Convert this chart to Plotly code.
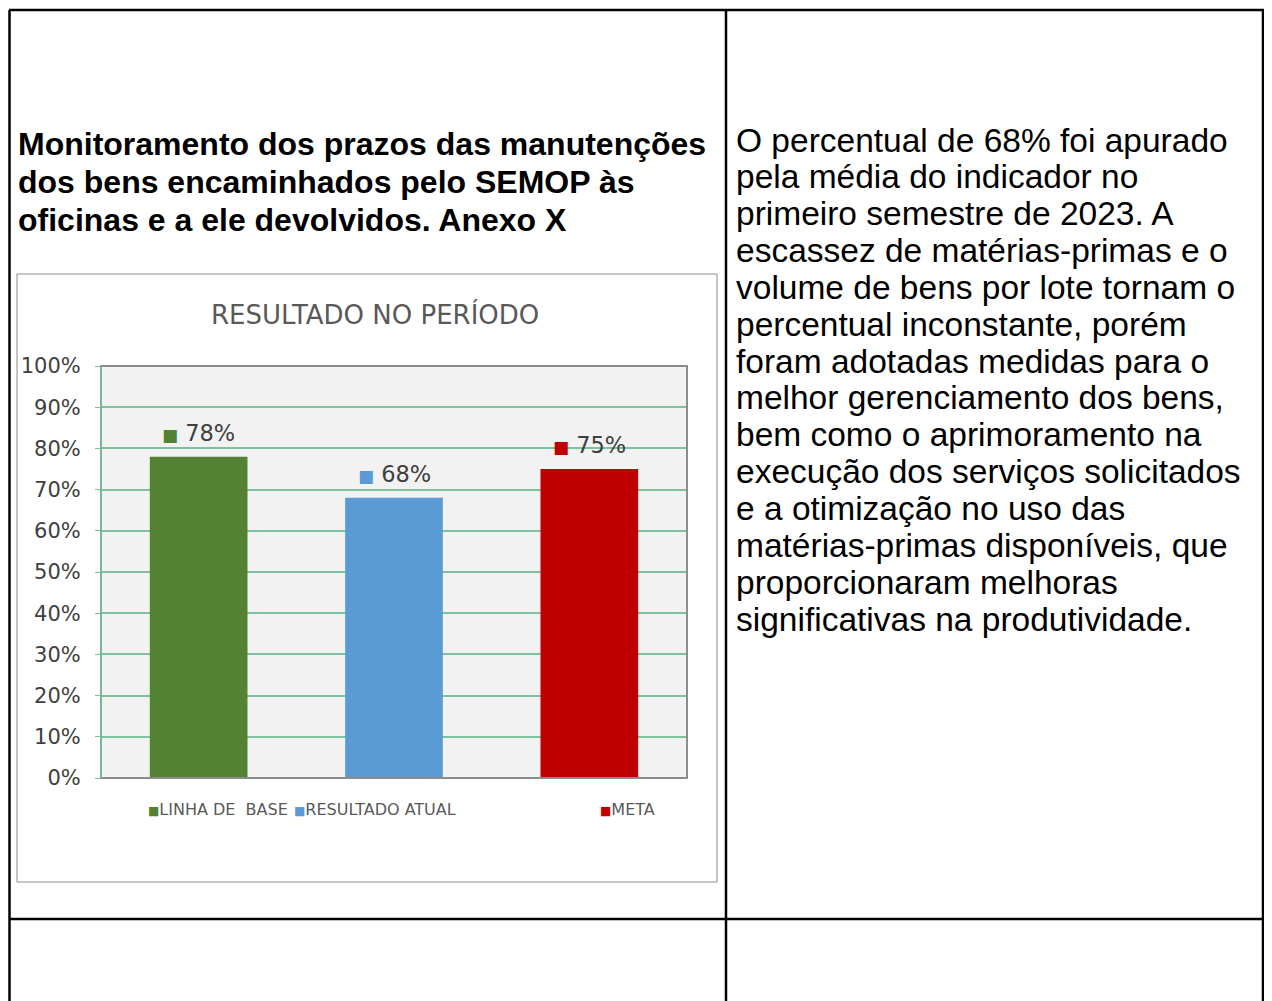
import plotly.graph_objects as go

# page offset: the html body adds an 8px margin, so the figure is sized/positioned to compensate
OFF = 8
W, H = 1272 - OFF, 1001 - OFF

# ---- data ----
categories = ["LINHA DE\u00a0\u00a0BASE", "RESULTADO ATUAL", "META"]
values = [0.78, 0.68, 0.75]
bar_colors = ["#548235", "#5B9BD5", "#C00000"]
y_ticks = [0, 0.1, 0.2, 0.3, 0.4, 0.5, 0.6, 0.7, 0.8, 0.9, 1.0]
y_tick_labels = ["0%", "10%", "20%", "30%", "40%", "50%", "60%", "70%", "80%", "90%", "100%"]
legend_x_px = [146, 292, 598]

chart_title = "RESULTADO NO PERÍODO"
left_title_lines = [
    "Monitoramento dos prazos das manutenções",
    "dos bens encaminhados pelo SEMOP às",
    "oficinas e a ele devolvidos. Anexo X",
]
right_text_lines = [
    "O percentual de 68% foi apurado",
    "pela média do indicador no",
    "primeiro semestre de 2023. A",
    "escassez de matérias-primas e o",
    "volume de bens por lote tornam o",
    "percentual inconstante, porém",
    "foram adotadas medidas para o",
    "melhor gerenciamento dos bens,",
    "bem como o aprimoramento na",
    "execução dos serviços solicitados",
    "e a otimização no uso das",
    "matérias-primas disponíveis, que",
    "proporcionaram melhoras",
    "significativas na produtividade.",
]


def px(x):
    return (x - OFF) / W


def py(y):
    return 1 - (y - OFF) / H


fig = go.Figure()
fig.add_trace(go.Bar(
    x=categories, y=values, width=0.5,
    marker=dict(color=bar_colors, line=dict(width=0)),
    showlegend=False, hoverinfo="skip",
))

plot_l, plot_r, plot_t, plot_b = 101, 687, 366, 778
grid_col = "#7DC19D"
txt_grey = "#595959"

fig.update_layout(
    width=W, height=H,
    margin=dict(l=0, r=0, t=0, b=0, pad=0, autoexpand=False),
    paper_bgcolor="white",
    plot_bgcolor="#F2F2F2",
    showlegend=False,
    xaxis=dict(domain=[px(plot_l), px(plot_r)], range=[-0.5, 2.5], automargin=False,
               showticklabels=False, showgrid=False, zeroline=False, ticks=""),
    yaxis=dict(domain=[py(plot_b), py(plot_t)], range=[0, 1.0], automargin=False,
               tickvals=y_ticks, ticktext=y_tick_labels,
               showgrid=True, gridcolor=grid_col, gridwidth=1.5,
               zeroline=False, ticks="outside", ticklen=5, tickcolor=grid_col,
               tickwidth=1, ticklabelstandoff=10,
               tickfont=dict(family="DejaVu Sans", size=21, color="#404040"),
               showline=False),
)

shapes = []
# table borders
blk = dict(color="black", width=2.5)
shapes.append(dict(type="line", xref="paper", yref="paper", x0=px(9), x1=px(1264), y0=py(10), y1=py(10), line=blk))
shapes.append(dict(type="line", xref="paper", yref="paper", x0=px(9), x1=px(1264), y0=py(919), y1=py(919), line=blk))
for xv in (9.5, 726, 1263):
    shapes.append(dict(type="line", xref="paper", yref="paper", x0=px(xv), x1=px(xv), y0=py(10), y1=0, line=blk))
# chart box
shapes.append(dict(type="rect", xref="paper", yref="paper", x0=px(17), x1=px(717), y0=py(274), y1=py(882),
                   line=dict(color="#8C8C8C", width=1)))
# plot area frame
shapes.append(dict(type="rect", xref="x domain", yref="y domain", x0=0, x1=1, y0=0, y1=1,
                   line=dict(color="#8C8C8C", width=2), layer="above"))
shapes.append(dict(type="line", xref="x domain", yref="y domain", x0=0, x1=0, y0=0, y1=1,
                   line=dict(color=grid_col, width=1.5), layer="above"))
fig.update_layout(shapes=shapes)

ann = []
# chart title
ann.append(dict(text=chart_title, x=px(375), y=py(314), xref="paper", yref="paper",
                xanchor="center", yanchor="middle", showarrow=False,
                font=dict(family="DejaVu Sans", size=26, color=txt_grey)))
# data labels
for c, v, col in zip(categories, values, bar_colors):
    ann.append(dict(text=f"<span style='color:{col};font-size:17px'>■</span> {v*100:.0f}%", x=c, y=v, xref="x", yref="y",
                    xanchor="center", yanchor="bottom", yshift=9, showarrow=False,
                    font=dict(family="DejaVu Sans", size=22.5, color="#404040")))
# legend
for c, col, lx in zip(categories, bar_colors, legend_x_px):
    ann.append(dict(text=f"<span style='color:{col};font-size:12px'>■</span>{c}", x=px(lx), y=py(809), xref="paper", yref="paper",
                    xanchor="left", yanchor="middle", showarrow=False,
                    font=dict(family="DejaVu Sans", size=16, color=txt_grey)))
# left bold title
for i, line in enumerate(left_title_lines):
    ann.append(dict(text=f"<b>{line}</b>", x=px(16), y=py(144 + 38 * i), xref="paper", yref="paper",
                    xanchor="left", yanchor="middle", showarrow=False,
                    font=dict(family="Liberation Sans", size=32, color="black")))
# right text
for i, line in enumerate(right_text_lines):
    ann.append(dict(text=line, x=px(734), y=py(140 + 36.85 * i), xref="paper", yref="paper",
                    xanchor="left", yanchor="middle", showarrow=False,
                    font=dict(family="Liberation Sans", size=33.5, color="black")))
fig.update_layout(annotations=ann)

fig.write_html("out.html")
